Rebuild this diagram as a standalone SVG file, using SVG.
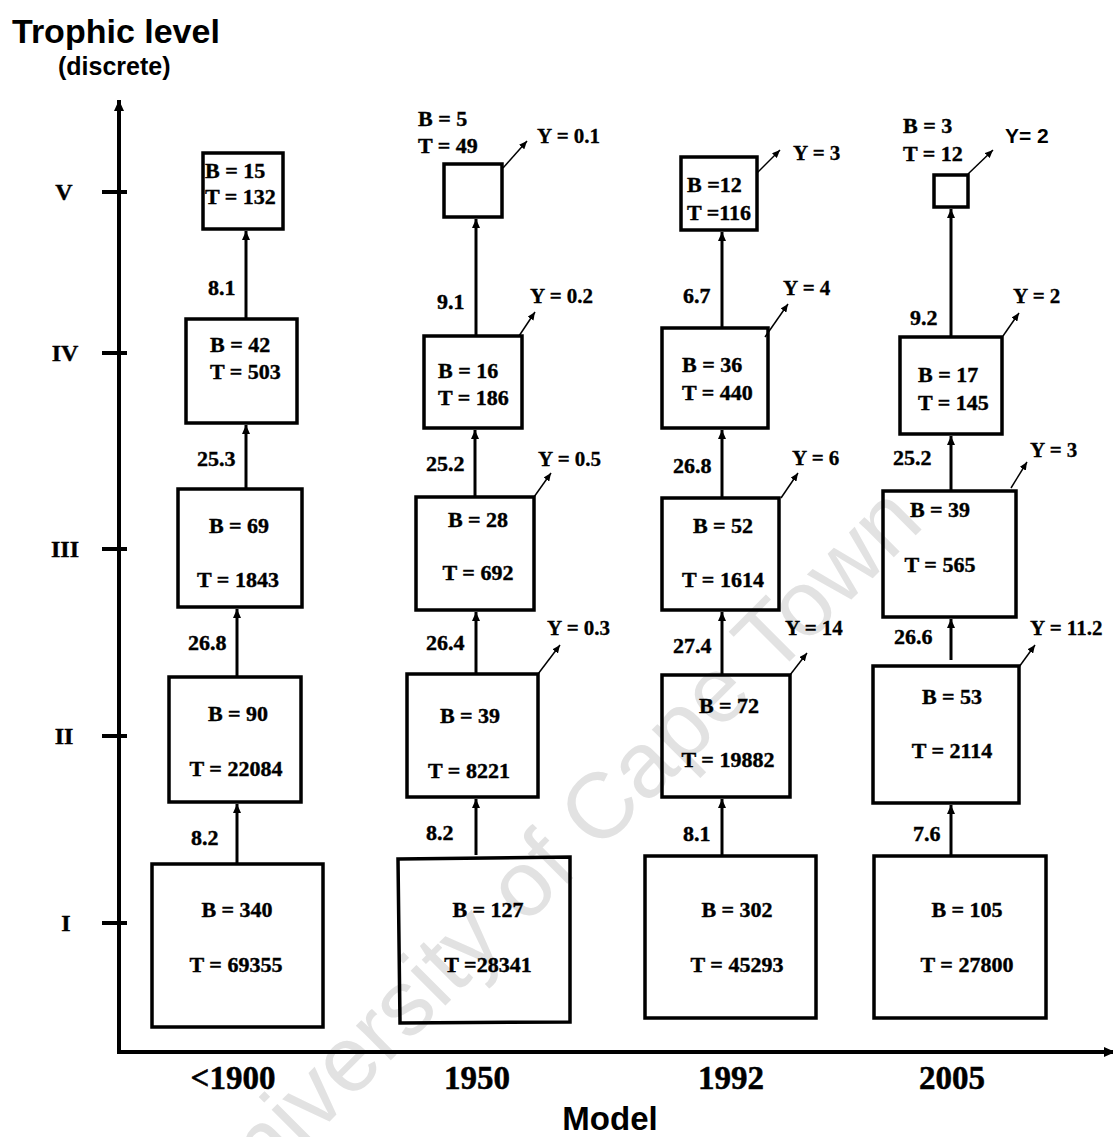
<svg xmlns="http://www.w3.org/2000/svg" width="1113" height="1137" viewBox="0 0 1113 1137">
<style>
.bx{fill:none;stroke:#000;stroke-width:3.5}
.t{font-family:"Liberation Serif","Times New Roman",serif;font-weight:bold;font-size:22px;fill:#000;stroke:#000;stroke-width:0.4}
.ty{font-family:"Liberation Serif","Times New Roman",serif;font-weight:bold;font-size:21px;fill:#000;stroke:#000;stroke-width:0.3}
.ax{font-family:"Liberation Serif","Times New Roman",serif;font-weight:bold;font-size:24px;fill:#000;text-anchor:middle;stroke:#000;stroke-width:0.4}
.yr{font-family:"Liberation Serif","Times New Roman",serif;font-weight:bold;font-size:33px;fill:#000;text-anchor:middle;stroke:#000;stroke-width:0.5}
.sans{font-family:"Liberation Sans",Arial,sans-serif;font-weight:bold;fill:#000}
.m{text-anchor:middle}
.c{stroke:#000;stroke-width:3;fill:none;marker-end:url(#ah)}
.y{stroke:#000;stroke-width:1.5;fill:none;marker-end:url(#ahs)}
.axis{stroke:#000;stroke-width:4;fill:none}
.wm{font-family:"Liberation Sans",Arial,sans-serif;font-size:93px;fill:#e2e2e2;text-anchor:middle}
</style>
<defs>
<marker id="ah" viewBox="0 0 9 8" refX="9" refY="4" markerWidth="9" markerHeight="8" markerUnits="userSpaceOnUse" orient="auto"><path d="M0,0 L9,4 L0,8 z" fill="#000"/></marker>
<marker id="ahs" viewBox="0 0 8 7" refX="8" refY="3.5" markerWidth="8" markerHeight="7" markerUnits="userSpaceOnUse" orient="auto"><path d="M0,0 L8,3.5 L0,7 z" fill="#000"/></marker>
<marker id="aax" viewBox="0 0 11 10" refX="11" refY="5" markerWidth="11" markerHeight="10" markerUnits="userSpaceOnUse" orient="auto"><path d="M0,0 L11,5 L0,10 z" fill="#000"/></marker>
</defs>
<rect width="1113" height="1137" fill="#fff"/>
<text class="wm" x="572" y="879" transform="rotate(-45 572 879)">University of Cape Town</text>

<g id="titles">
<text class="sans" x="12" y="43" font-size="34">Trophic level</text>
<text class="sans" x="58" y="75" font-size="25">(discrete)</text>
<text class="sans m" x="610" y="1130" font-size="33">Model</text>
</g>

<g id="axes">
<line class="axis" x1="119" y1="1054" x2="119" y2="100" marker-end="url(#aax)"/>
<line class="axis" x1="117" y1="1052" x2="1115" y2="1052" stroke-width="3.5" marker-end="url(#aax)"/>
<line class="axis" x1="102" y1="192" x2="127" y2="192"/>
<line class="axis" x1="102" y1="353" x2="127" y2="353"/>
<line class="axis" x1="102" y1="549" x2="127" y2="549"/>
<line class="axis" x1="102" y1="736" x2="127" y2="736"/>
<line class="axis" x1="102" y1="923" x2="127" y2="923"/>
<text class="ax" x="64" y="200">V</text>
<text class="ax" x="65" y="361">IV</text>
<text class="ax" x="65" y="557">III</text>
<text class="ax" x="64" y="744">II</text>
<text class="ax" x="66" y="931">I</text>
<text class="yr" x="233" y="1089">&lt;1900</text>
<text class="yr" x="477" y="1089">1950</text>
<text class="yr" x="731" y="1089">1992</text>
<text class="yr" x="952" y="1089">2005</text>
</g>

<g id="connectors">
<line class="c" x1="246" y1="319" x2="246" y2="231"/>
<line class="c" x1="246" y1="489" x2="246" y2="425"/>
<line class="c" x1="237" y1="677" x2="237" y2="609"/>
<line class="c" x1="237" y1="864" x2="237" y2="804"/>
<line class="c" x1="476" y1="336" x2="476" y2="219"/>
<line class="c" x1="475" y1="497" x2="475" y2="430"/>
<line class="c" x1="476" y1="674" x2="476" y2="612"/>
<line class="c" x1="476" y1="855" x2="476" y2="799"/>
<line class="c" x1="722" y1="328" x2="722" y2="232"/>
<line class="c" x1="722" y1="498" x2="722" y2="430"/>
<line class="c" x1="722" y1="675" x2="722" y2="612"/>
<line class="c" x1="722" y1="856" x2="722" y2="799"/>
<line class="c" x1="951" y1="337" x2="951" y2="209"/>
<line class="c" x1="951" y1="491" x2="951" y2="436"/>
<line class="c" x1="951" y1="660" x2="951" y2="619"/>
<line class="c" x1="951" y1="856" x2="951" y2="805"/>
<line class="y" x1="503" y1="168" x2="527" y2="141"/>
<line class="y" x1="519" y1="336" x2="535" y2="312"/>
<line class="y" x1="534" y1="497" x2="551" y2="473"/>
<line class="y" x1="538" y1="674" x2="560" y2="645"/>
<line class="y" x1="757" y1="173" x2="780" y2="150"/>
<line class="y" x1="765" y1="337" x2="788" y2="304"/>
<line class="y" x1="781" y1="498" x2="798" y2="473"/>
<line class="y" x1="790" y1="675" x2="807" y2="653"/>
<line class="y" x1="968" y1="174" x2="993" y2="150"/>
<line class="y" x1="1003" y1="336" x2="1019" y2="313"/>
<line class="y" x1="1011" y1="488" x2="1027" y2="462"/>
<line class="y" x1="1019" y1="667" x2="1035" y2="645"/>
<text class="t" x="208" y="295">8.1</text>
<text class="t" x="197" y="466">25.3</text>
<text class="t" x="188" y="650">26.8</text>
<text class="t" x="191" y="845">8.2</text>
<text class="t" x="437" y="309">9.1</text>
<text class="t" x="426" y="471">25.2</text>
<text class="t" x="426" y="650">26.4</text>
<text class="t" x="426" y="840">8.2</text>
<text class="t" x="683" y="303">6.7</text>
<text class="t" x="673" y="473">26.8</text>
<text class="t" x="673" y="653">27.4</text>
<text class="t" x="683" y="841">8.1</text>
<text class="t" x="910" y="325">9.2</text>
<text class="t" x="893" y="465">25.2</text>
<text class="t" x="894" y="644">26.6</text>
<text class="t" x="913" y="841">7.6</text>
<text class="ty" x="537" y="143">Y = 0.1</text>
<text class="ty" x="530" y="303">Y = 0.2</text>
<text class="ty" x="538" y="466">Y = 0.5</text>
<text class="ty" x="547" y="635">Y = 0.3</text>
<text class="ty" x="793" y="160">Y = 3</text>
<text class="ty" x="783" y="295">Y = 4</text>
<text class="ty" x="792" y="465">Y = 6</text>
<text class="ty" x="785" y="635">Y = 14</text>
<text class="sans" x="1005" y="143" font-size="21">Y= 2</text>
<text class="ty" x="1013" y="303">Y = 2</text>
<text class="ty" x="1030" y="457">Y = 3</text>
<text class="ty" x="1030" y="635">Y = 11.2</text>
</g>

<g id="n1900-V"><rect class="bx" x="203" y="153" width="80" height="76"/><text class="t" x="205" y="178">B = 15</text><text class="t" x="205" y="204">T = 132</text></g>
<g id="n1900-IV"><rect class="bx" x="186" y="319" width="111" height="104"/><text class="t" x="210" y="352">B = 42</text><text class="t" x="210" y="379">T = 503</text></g>
<g id="n1900-III"><rect class="bx" x="178" y="489" width="124" height="118"/><text class="t m" x="239" y="533">B = 69</text><text class="t m" x="238" y="587">T = 1843</text></g>
<g id="n1900-II"><rect class="bx" x="169" y="677" width="132" height="125"/><text class="t m" x="238" y="721">B = 90</text><text class="t m" x="236" y="776">T = 22084</text></g>
<g id="n1900-I"><rect class="bx" x="152" y="864" width="171" height="163"/><text class="t m" x="237" y="917">B = 340</text><text class="t m" x="236" y="972">T = 69355</text></g>

<g id="n1950-V"><rect class="bx" x="444" y="164" width="58" height="53"/><text class="t" x="418" y="126">B = 5</text><text class="t" x="418" y="153">T = 49</text></g>
<g id="n1950-IV"><rect class="bx" x="424" y="336" width="98" height="92"/><text class="t" x="438" y="378">B = 16</text><text class="t" x="438" y="405">T = 186</text></g>
<g id="n1950-III"><rect class="bx" x="416" y="497" width="118" height="113"/><text class="t m" x="478" y="527">B = 28</text><text class="t m" x="478" y="580">T = 692</text></g>
<g id="n1950-II"><rect class="bx" x="407" y="674" width="131" height="123"/><text class="t m" x="470" y="723">B = 39</text><text class="t m" x="469" y="778">T = 8221</text></g>
<g id="n1950-I"><polygon class="bx" points="398,859 570,857 570,1022 400,1023"/><text class="t m" x="488" y="917">B = 127</text><text class="t m" x="488" y="972">T =28341</text></g>

<g id="n1992-V"><rect class="bx" x="681" y="157" width="76" height="73"/><text class="t" x="687" y="192">B =12</text><text class="t" x="687" y="220">T =116</text></g>
<g id="n1992-IV"><rect class="bx" x="662" y="328" width="106" height="100"/><text class="t" x="682" y="372">B = 36</text><text class="t" x="682" y="400">T = 440</text></g>
<g id="n1992-III"><rect class="bx" x="662" y="498" width="117" height="112"/><text class="t m" x="723" y="533">B = 52</text><text class="t m" x="723" y="587">T = 1614</text></g>
<g id="n1992-II"><rect class="bx" x="662" y="675" width="128" height="122"/><text class="t m" x="729" y="713">B = 72</text><text class="t m" x="728" y="767">T = 19882</text></g>
<g id="n1992-I"><rect class="bx" x="645" y="856" width="171" height="162"/><text class="t m" x="737" y="917">B = 302</text><text class="t m" x="737" y="972">T = 45293</text></g>

<g id="n2005-V"><rect class="bx" x="934" y="175" width="34" height="32"/><text class="t" x="903" y="133">B = 3</text><text class="t" x="903" y="161">T = 12</text></g>
<g id="n2005-IV"><rect class="bx" x="900" y="337" width="102" height="97"/><text class="t" x="918" y="382">B = 17</text><text class="t" x="918" y="410">T = 145</text></g>
<g id="n2005-III"><rect class="bx" x="883" y="491" width="133" height="126"/><text class="t m" x="940" y="517">B = 39</text><text class="t m" x="940" y="572">T = 565</text></g>
<g id="n2005-II"><rect class="bx" x="873" y="666" width="146" height="137"/><text class="t m" x="952" y="704">B = 53</text><text class="t m" x="952" y="758">T = 2114</text></g>
<g id="n2005-I"><rect class="bx" x="874" y="856" width="172" height="162"/><text class="t m" x="967" y="917">B = 105</text><text class="t m" x="967" y="972">T = 27800</text></g>
</svg>
